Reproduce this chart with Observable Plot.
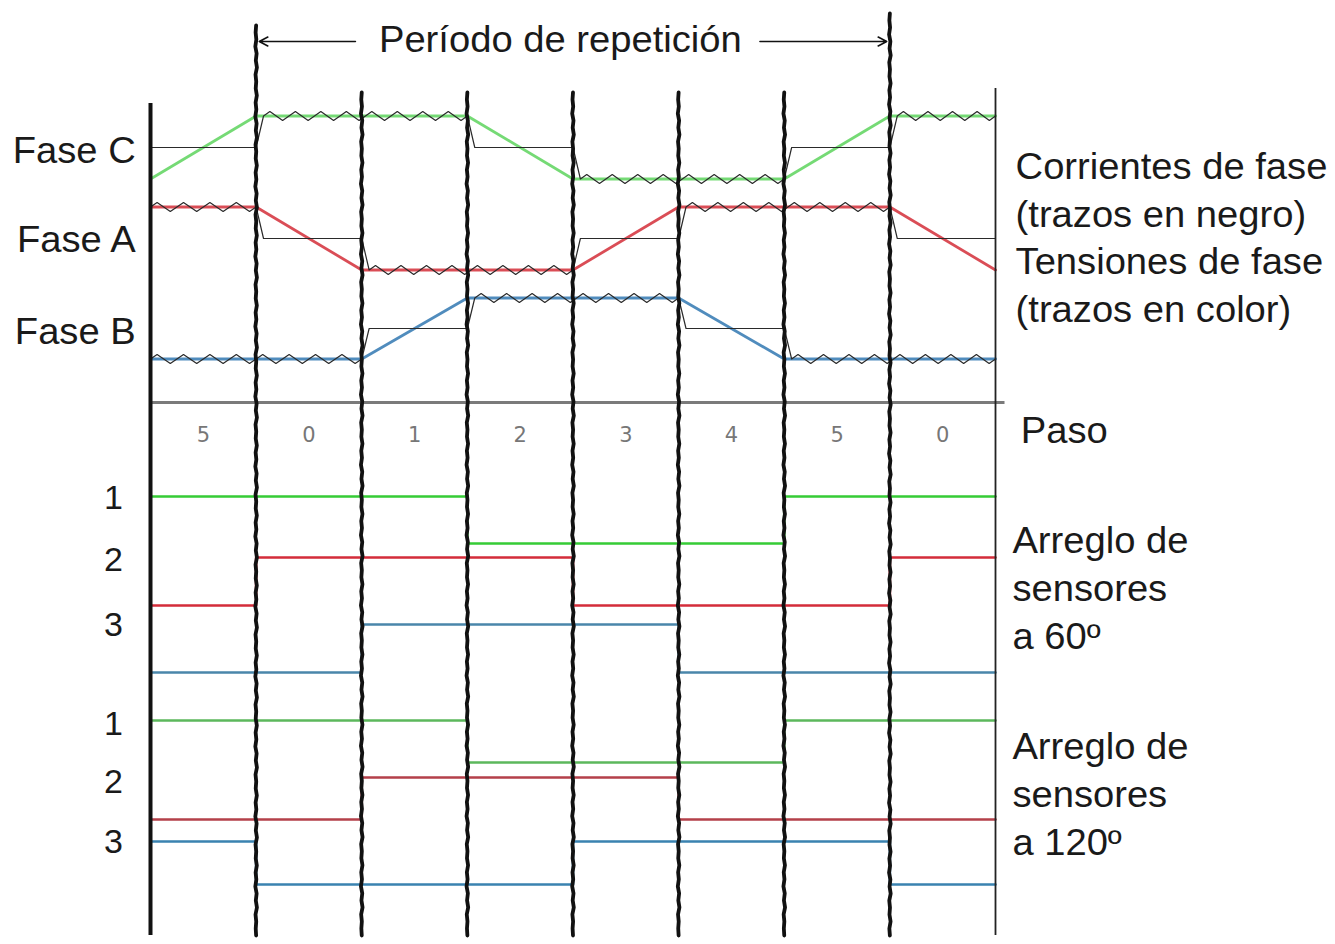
<!DOCTYPE html>
<html>
<head>
<meta charset="utf-8">
<script src="https://cdn.jsdelivr.net/npm/d3@7"></script>
<script src="https://cdn.jsdelivr.net/npm/@observablehq/plot@0.6"></script>
<style>
  html, body { margin: 0; padding: 0; background: #fff; }
</style>
</head>
<body>
<div id="chart"></div>
<script>
// Commutation step shown in each 60° column
const steps = ["5", "0", "1", "2", "3", "4", "5", "0"];

// Phase voltages at each step boundary (+1 high, -1 low); the straight lines between give the trapezoids
const voltageC = [-1, 1, 1, 1, -1, -1, -1, 1, 1];
const voltageA = [1, 1, -1, -1, -1, 1, 1, 1, -1];
const voltageB = [-1, -1, -1, 1, 1, 1, -1, -1, -1];

// Phase currents held during each step (+1 / -1 driven, 0 floating)
const currentC = [0, 1, 1, 0, -1, -1, 0, 1];
const currentA = [1, 0, -1, -1, 0, 1, 1, 0];
const currentB = [-1, -1, 0, 1, 1, 0, -1, -1];

// Hall sensor outputs per step, sensors placed at 60°
const hall60_1 = [1, 1, 1, 0, 0, 0, 1, 1];
const hall60_2 = [0, 1, 1, 1, 0, 0, 0, 1];
const hall60_3 = [0, 0, 1, 1, 1, 0, 0, 0];
// Hall sensor outputs per step, sensors placed at 120°
const hall120_1 = [1, 1, 1, 0, 0, 0, 1, 1];
const hall120_2 = [0, 0, 1, 1, 1, 0, 0, 0];
const hall120_3 = [1, 0, 0, 0, 1, 1, 1, 0];

// Step boundaries where the repetition period starts and ends
const periodStart = 1, periodEnd = 7;

// ---- layout ----
const W = 1335, H = 944;
const FONT = "'Liberation Sans', Arial, Helvetica, sans-serif";
const LABEL_SIZE = 36;
const GREEN = "#66d666", RED = "#d63a44", BLUE = "#3d80b6";

const phases = [
  {name: "Fase C", zero: 147, amp: 31.5, labelY: 162, color: GREEN, v: voltageC, i: currentC},
  {name: "Fase A", zero: 238, amp: 31.5, labelY: 251, color: RED,   v: voltageA, i: currentA},
  {name: "Fase B", zero: 328, amp: 30.5, labelY: 343, color: BLUE,  v: voltageB, i: currentB}
];

const sensors = [
  {label: "1", high: 496, low: 543, labelY: 508, color: "#36cc36", bits: hall60_1},
  {label: "2", high: 557, low: 605, labelY: 570, color: "#d42c3a", bits: hall60_2},
  {label: "3", high: 624, low: 672, labelY: 635, color: "#4a86aa", bits: hall60_3},
  {label: "1", high: 720, low: 762, labelY: 734, color: "#5cb85c", bits: hall120_1},
  {label: "2", high: 777, low: 819, labelY: 792, color: "#b4404a", bits: hall120_2},
  {label: "3", high: 841, low: 884, labelY: 852, color: "#3a82b0", bits: hall120_3}
];

const RAMP = 0.07; // commutation time of the current, in steps

// Breakpoints of a current trace: flat while a step lasts, short ramp after a boundary
function currentPoints(levels) {
  const pts = [{x: 0, level: levels[0]}];
  for (let k = 1; k < levels.length; k++) {
    if (levels[k] !== levels[k - 1]) {
      pts.push({x: k, level: levels[k - 1]});
      pts.push({x: k + RAMP, level: levels[k]});
    }
  }
  pts.push({x: levels.length, level: levels[levels.length - 1]});
  return pts;
}

// Flat driven stretches of a current trace get a triangular PWM ripple;
// slopes and the floating (zero) level stay straight.
function rippleCurve(zeroY, period = 26, amp = 4.5) {
  return (context) => {
    let px, py, started = false;
    return {
      lineStart() { started = false; },
      lineEnd() {},
      point(x, y) {
        x = +x; y = +y;
        if (!started) { context.moveTo(x, y); started = true; }
        else if (Math.abs(y - py) < 0.5 && Math.abs(y - zeroY) > 2 && x - px > period) {
          const n = Math.round((x - px) / period), w = (x - px) / n;
          for (let i = 0; i < n; i++) {
            context.lineTo(px + w * (i + 0.25), y - amp);
            context.lineTo(px + w * (i + 0.75), y + amp);
          }
          context.lineTo(x, y);
        } else context.lineTo(x, y);
        px = x; py = y;
      }
    };
  };
}

// Hand-drawn look for the heavy step separators
function wobbleCurve(seg = 7) {
  const offsets = [0.7, -0.5, 0.2, -0.8, 0.5, -0.3, 0.8, -0.6, 0.1, -0.4];
  return (context) => {
    let px, py, started = false;
    return {
      lineStart() { started = false; },
      lineEnd() {},
      point(x, y) {
        x = +x; y = +y;
        if (!started) { context.moveTo(x, y); started = true; }
        else {
          const n = Math.max(1, Math.round(Math.abs(y - py) / seg));
          for (let i = 1; i < n; i++) {
            context.lineTo(px + (x - px) * i / n + offsets[i % offsets.length], py + (y - py) * i / n);
          }
          context.lineTo(x, y);
        }
        px = x; py = y;
      }
    };
  };
}

const marks = [];

// step axis line and step numbers
marks.push(Plot.ruleY([402], {x1: 0, x2: 8.09, stroke: "#7a7a7a", strokeWidth: 3}));
marks.push(Plot.text(steps, {
  x: (d, k) => k + 0.5, y: 441, text: d => d, fill: "#777",
  fontSize: 21, lineAnchor: "bottom", fontFamily: "'DejaVu Sans', sans-serif"
}));

// phase voltages (colour) and currents (black)
for (const p of phases) {
  marks.push(Plot.line(p.v, {
    x: (d, k) => k, y: d => p.zero - p.amp * d,
    stroke: p.color, strokeWidth: 2.8, strokeOpacity: 0.9
  }));
}
for (const p of phases) {
  marks.push(Plot.line(currentPoints(p.i), {
    x: "x", y: d => p.zero - p.amp * d.level,
    stroke: "#2a2a2a", strokeWidth: 1.2, curve: rippleCurve(p.zero)
  }));
}

// Hall sensor logic levels
for (const s of sensors) {
  const pts = s.bits.map((b, k) => ({x: k, b}));
  pts.push({x: s.bits.length, b: s.bits[s.bits.length - 1]});
  marks.push(Plot.line(pts, {
    x: "x", y: d => (d.b ? s.high : s.low),
    stroke: s.color, strokeWidth: 2.6, curve: "step-after"
  }));
}

// heavy step separators; the two that bound the period reach up to the title
const separators = [];
for (let k = 1; k < steps.length; k++) {
  const top = k === periodStart ? 25 : k === periodEnd ? 13 : 92;
  separators.push({k, y: top}, {k, y: 935});
}
marks.push(Plot.line(separators, {
  x: "k", y: "y", z: "k", stroke: "#111", strokeWidth: 3.8, curve: wobbleCurve()
}));
// left and right frame of the time span
marks.push(Plot.ruleX([0], {y1: 103, y2: 935, stroke: "#111", strokeWidth: 4}));
marks.push(Plot.ruleX([steps.length], {y1: 88, y2: 935, stroke: "#222", strokeWidth: 1.8}));

// repetition period arrows and title
marks.push(Plot.arrow([
  {x1: 1.94, x2: periodStart + 0.03},
  {x1: 5.77, x2: periodEnd - 0.03}
], {x1: "x1", x2: "x2", y1: 41, y2: 41, stroke: "#111", strokeWidth: 1.6, headLength: 9, headAngle: 55}));
marks.push(Plot.text(["Período de repetición"], {
  x: 3.88, y: 51, text: d => d, fontSize: LABEL_SIZE, lineAnchor: "bottom", fill: "#1a1a1a", fontFamily: FONT
}));

// phase names
marks.push(Plot.text(phases, {
  x: -0.14, y: "labelY", text: "name", textAnchor: "end", lineAnchor: "bottom",
  fontSize: LABEL_SIZE, fill: "#1a1a1a", fontFamily: FONT
}));

// sensor numbers
marks.push(Plot.text(sensors, {
  x: -0.26, y: "labelY", text: "label", textAnchor: "end", lineAnchor: "bottom",
  fontSize: 34, fill: "#1a1a1a", fontFamily: FONT
}));

// side notes
const notes = [
  {t: "Corrientes de fase", y: 178},
  {t: "(trazos en negro)", y: 226},
  {t: "Tensiones de fase", y: 273},
  {t: "(trazos en color)", y: 321},
  {t: "Paso", y: 442},
  {t: "Arreglo de", y: 552},
  {t: "sensores", y: 600},
  {t: "a 60º", y: 648},
  {t: "Arreglo de", y: 758},
  {t: "sensores", y: 806},
  {t: "a 120º", y: 854}
];
marks.push(Plot.text(notes, {
  x: d => (d.t === "Paso" ? 8.24 : d.t.startsWith("Arreglo") || d.t === "sensores" || d.t.startsWith("a ") ? 8.16 : 8.19),
  y: "y", text: "t", textAnchor: "start", lineAnchor: "bottom",
  fontSize: LABEL_SIZE, fill: "#1a1a1a", fontFamily: FONT
}));

const chart = Plot.plot({
  width: W,
  height: H,
  margin: 0,
  x: {domain: [0, 8], range: [150, 995], axis: null},
  y: {domain: [0, H], range: [0, H], axis: null},
  style: {background: "#fff", fontFamily: FONT, overflow: "visible"},
  marks
});
document.getElementById("chart").appendChild(chart);

// The lettering is a little wider than the stock face: stretch the large labels slightly
d3.select(chart).selectAll(`g[font-size="${LABEL_SIZE}"] text`).each(function () {
  const len = this.getComputedTextLength();
  this.setAttribute("textLength", (len * 1.06).toFixed(1));
  this.setAttribute("lengthAdjust", "spacingAndGlyphs");
});
</script>
</body>
</html>
